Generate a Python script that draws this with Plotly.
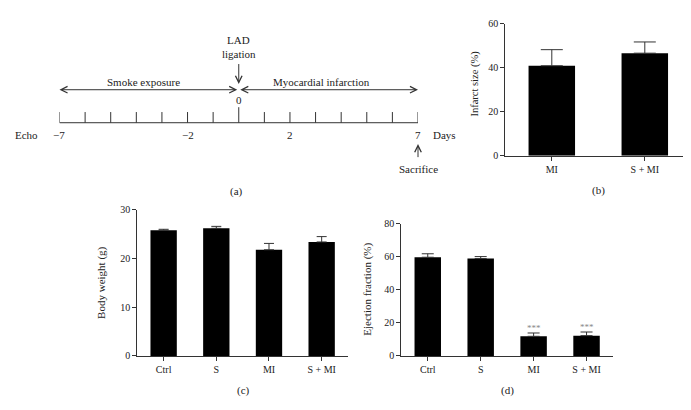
import plotly.graph_objects as go

W, H = 691, 410
def px(x): return x / W
def py(y): return 1 - y / H

# ---------------- data ----------------
# Panel (a) timeline
days = list(range(-7, 8))
day_tick_labels = {-7: "−7", -2: "−2", 2: "2", 7: "7"}
ligation_day = 0
sacrifice_day = 7

# Panel (b) infarct size
b_groups = ["MI", "S + MI"]
b_infarct = [40.9, 46.6]
b_err = [7.3, 5.1]

# Panels (c), (d)
cd_groups = ["Ctrl", "S", "MI", "S + MI"]
c_weight = [25.8, 26.2, 21.8, 23.4]
c_err = [0.2, 0.4, 1.3, 1.1]
d_ef = [59.7, 58.9, 11.9, 12.3]
d_err = [2.1, 1.2, 2.0, 2.2]
d_sig = ["", "", "***", "***"]

FONT = "Liberation Serif"
TXT = "#222222"
AX = "#333333"

fig = go.Figure()

def err(arr, w):
    return dict(type="data", array=arr, arrayminus=[0] * len(arr), symmetric=False,
                color=AX, thickness=1, width=w, visible=True)

fig.add_trace(go.Bar(x=b_groups, y=b_infarct, xaxis="x", yaxis="y", width=0.5,
                     marker=dict(color="black", line=dict(width=0)), error_y=err(b_err, 11)))
fig.add_trace(go.Bar(x=cd_groups, y=c_weight, xaxis="x2", yaxis="y2", width=0.5,
                     marker=dict(color="black", line=dict(width=0)), error_y=err(c_err, 5)))
fig.add_trace(go.Bar(x=cd_groups, y=d_ef, xaxis="x3", yaxis="y3", width=0.5,
                     marker=dict(color="black", line=dict(width=0)), error_y=err(d_err, 6)))
# timeline baseline
fig.add_trace(go.Scatter(x=[days[0], days[-1]], y=[112, 112], xaxis="x4", yaxis="y4",
                         mode="lines", line=dict(color=AX, width=1), hoverinfo="skip"))

def xax(dom):
    return dict(domain=dom, showline=True, linecolor=AX, linewidth=1, ticks="outside",
                ticklen=4, tickcolor=AX, tickwidth=1, showgrid=False, zeroline=False,
                tickfont=dict(family=FONT, size=10, color=TXT), fixedrange=True)

def yax(dom, rng, dt):
    return dict(domain=dom, range=rng, dtick=dt, showline=True, linecolor=AX, linewidth=1,
                ticks="outside", ticklen=4, tickcolor=AX, tickwidth=1, showgrid=False,
                zeroline=False, tickfont=dict(family=FONT, size=10, color=TXT), fixedrange=True)

layout = dict(
    width=W, height=H, margin=dict(l=0, r=0, t=0, b=0),
    paper_bgcolor="white", plot_bgcolor="rgba(0,0,0,0)", showlegend=False,
    font=dict(family=FONT, size=10, color=TXT),
    xaxis=dict(xax([px(497.3), px(683.3)]), anchor="y", range=[-0.5, 1.5]),
    yaxis=dict(yax([py(146), py(10)], [0, 60], 20), anchor="x"),
    xaxis2=dict(xax([px(129.3), px(340)]), anchor="y2", range=[-0.5, 3.5]),
    yaxis2=dict(yax([py(352.3), py(201.7)], [0, 30], 10), anchor="x2"),
    xaxis3=dict(xax([px(393.3), px(605)]), anchor="y3", range=[-0.5, 3.5]),
    yaxis3=dict(yax([py(352.3), py(216)], [0, 80], 20), anchor="x3"),
    xaxis4=dict(domain=[px(51.5), px(410)], range=[days[0], days[-1]], visible=False,
                anchor="y4", fixedrange=True),
    yaxis4=dict(domain=[0, 1], range=[H, 0], visible=False, anchor="x4", fixedrange=True),
)
fig.update_layout(**layout)

# timeline ticks
for d in days:
    fig.add_shape(type="line", xref="x4", yref="y4", x0=d, x1=d,
                  y0=96 if d == ligation_day else 101, y1=112,
                  line=dict(color=AX, width=1))

ann = []
def t(text, x, y, xref="x4", yref="y4", size=11, **kw):
    ann.append(dict(text=text, x=x, y=y, xref=xref, yref=yref, showarrow=False,
                    xanchor="center", yanchor="middle",
                    font=dict(family=FONT, size=size, color=TXT), **kw))

for d, lab in day_tick_labels.items():
    t(lab, d, 125)
t("0", ligation_day, 89)
t("Echo", px(18), 125, xref="paper")
t("Days", px(437), 125, xref="paper")
t("LAD", ligation_day, 27)
t("ligation", ligation_day, 41)
t("Smoke exposure", px(135), 70, xref="paper")
t("Myocardial infarction", px(313), 70, xref="paper")
t("Sacrifice", sacrifice_day, 160)
t("(a)", px(228), 183, xref="paper")

# arrows
def arrow(x, y, ax, ay, both=False):
    a = dict(text="", x=x, y=y, ax=ax, ay=ay, xref="x4", yref="y4", axref="x4", ayref="y4",
             showarrow=True, arrowhead=5, arrowsize=1.3, arrowwidth=1, arrowcolor=AX)
    if both:
        a.update(arrowside="end+start", startarrowhead=5, startarrowsize=1.3)
    ann.append(a)

arrow(days[0], 78, ligation_day, 78, both=True)
arrow(days[-1], 78, ligation_day, 78, both=True)
arrow(ligation_day, 72, ligation_day, 50)
arrow(sacrifice_day, 134, sacrifice_day, 149)

# axis titles
t("Infarct size (%)", px(466.7), py(72), xref="paper", yref="paper", size=10.5, textangle=-90)
t("Body weight (g)", px(94), py(277), xref="paper", yref="paper", size=11, textangle=-90)
t("Ejection fraction (%)", px(360), py(284), xref="paper", yref="paper", size=11, textangle=-90)

# panel labels
t("(b)", px(590), py(182), xref="paper", yref="paper")
t("(c)", px(235), py(388), xref="paper", yref="paper")
t("(d)", px(499), py(388), xref="paper", yref="paper")

# significance stars
for g, v, e, s in zip(cd_groups, d_ef, d_err, d_sig):
    if s:
        ann.append(dict(text=s, x=g, y=v + e, xref="x3", yref="y3", showarrow=False,
                        yanchor="bottom", yshift=-2,
                        font=dict(family=FONT, size=9, color="#888888")))

fig.update_layout(annotations=ann)
fig.write_html("out.html")
